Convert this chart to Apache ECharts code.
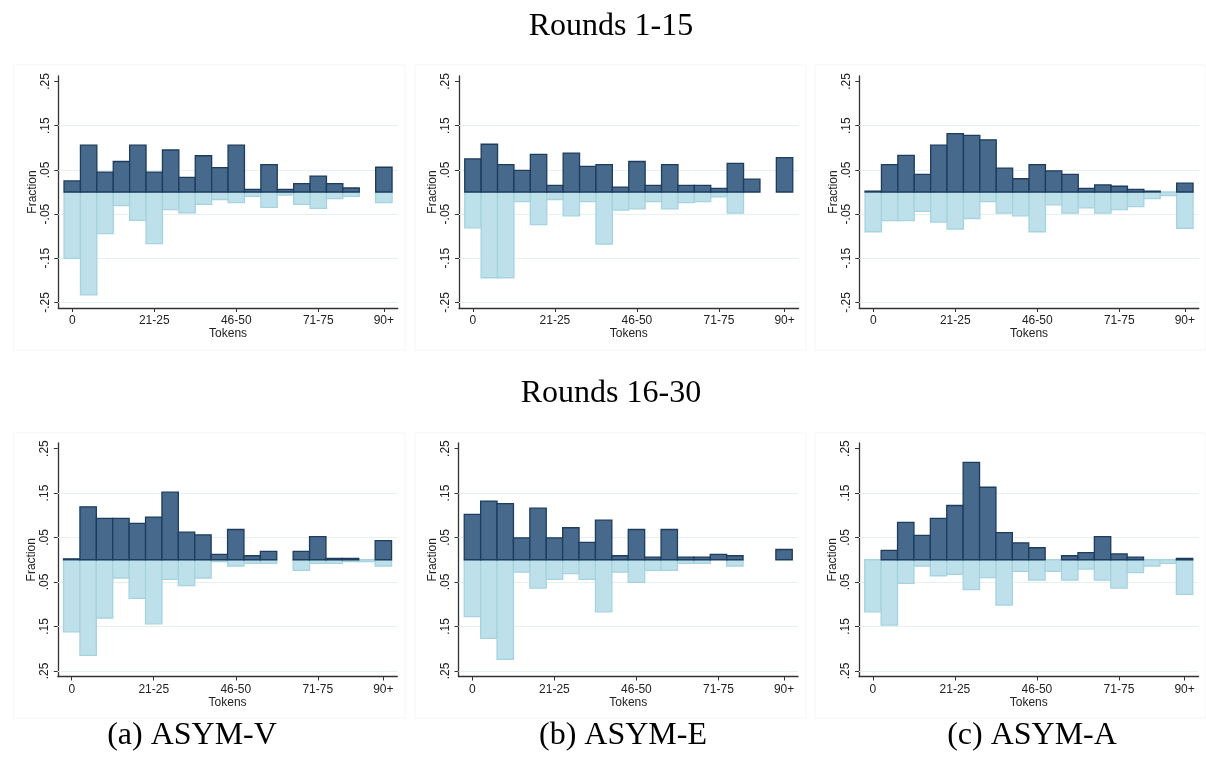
<!DOCTYPE html>
<html>
<head>
<meta charset="utf-8">
<title>Token distributions</title>
<script src="https://cdn.jsdelivr.net/npm/echarts@6/dist/echarts.min.js"></script>
<style>
  html, body { margin: 0; padding: 0; background: #fff; }
  #chart { width: 1206px; height: 774px; }
</style>
</head>
<body>
<div id="chart"></div>
<script>
// Token bins (one bar per bin); only some get a tick label
const bins = ['0', '1-5', '6-10', '11-15', '16-20', '21-25', '26-30', '31-35', '36-40', '41-45',
    '46-50', '51-55', '56-60', '61-65', '66-70', '71-75', '76-80', '81-85', '86-89', '90+'];
const labelledBins = [0, 5, 10, 15, 19];
const yTicks = [-0.25, -0.15, -0.05, 0.05, 0.15, 0.25];
const gridValues = [-0.25, -0.15, -0.05, 0.05, 0.15];

// Fractions per bin. "upper" = dark bars above zero, "lower" = light bars drawn below zero.
// Rounds 1-15
const asymV_r1_upper = [0.025, 0.106, 0.045, 0.069, 0.106, 0.045, 0.095, 0.033, 0.082, 0.055,
    0.106, 0.006, 0.062, 0.006, 0.019, 0.036, 0.019, 0.009, 0, 0.056];
const asymV_r1_lower = [0.150, 0.233, 0.094, 0.031, 0.064, 0.117, 0.040, 0.047, 0.028, 0.017,
    0.024, 0.010, 0.035, 0.007, 0.028, 0.037, 0.015, 0.010, 0, 0.024];
const asymE_r1_upper = [0.075, 0.108, 0.062, 0.049, 0.085, 0.015, 0.088, 0.058, 0.062, 0.011,
    0.069, 0.015, 0.062, 0.015, 0.015, 0.008, 0.065, 0.029, 0, 0.078];
const asymE_r1_lower = [0.081, 0.194, 0.194, 0.022, 0.074, 0.017, 0.054, 0.022, 0.118, 0.041,
    0.038, 0.022, 0.038, 0.024, 0.022, 0.011, 0.048, 0, 0, 0];
const asymA_r1_upper = [0.002, 0.062, 0.083, 0.040, 0.106, 0.132, 0.128, 0.118, 0.054, 0.030,
    0.062, 0.048, 0.040, 0.008, 0.016, 0.013, 0.006, 0.002, 0, 0.020];
const asymA_r1_lower = [0.090, 0.065, 0.065, 0.044, 0.068, 0.084, 0.060, 0.022, 0.048, 0.054,
    0.090, 0.029, 0.048, 0.036, 0.048, 0.040, 0.033, 0.015, 0.008, 0.082];
// Rounds 16-30
const asymV_r2_upper = [0.002, 0.119, 0.093, 0.093, 0.082, 0.096, 0.152, 0.062, 0.056, 0.012,
    0.068, 0.009, 0.019, 0, 0.019, 0.052, 0.003, 0.003, 0, 0.043];
const asymV_r2_lower = [0.162, 0.215, 0.131, 0.041, 0.087, 0.144, 0.044, 0.058, 0.041, 0.004,
    0.014, 0.008, 0.008, 0, 0.024, 0.008, 0.008, 0.004, 0.004, 0.014];
const asymE_r2_upper = [0.102, 0.132, 0.126, 0.049, 0.116, 0.049, 0.072, 0.039, 0.089, 0.009,
    0.068, 0.006, 0.068, 0.006, 0.006, 0.012, 0.009, 0, 0, 0.023];
const asymE_r2_lower = [0.128, 0.177, 0.224, 0.028, 0.064, 0.044, 0.031, 0.044, 0.117, 0.028,
    0.051, 0.024, 0.024, 0.008, 0.008, 0, 0.014, 0, 0, 0];
const asymA_r2_upper = [0, 0.021, 0.084, 0.055, 0.093, 0.122, 0.219, 0.163, 0.061, 0.038,
    0.027, 0, 0.009, 0.016, 0.052, 0.013, 0.006, 0, 0, 0.003];
const asymA_r2_lower = [0.117, 0.147, 0.053, 0.014, 0.036, 0.033, 0.067, 0.040, 0.102, 0.026,
    0.046, 0.026, 0.046, 0.021, 0.046, 0.064, 0.029, 0.014, 0.008, 0.078];

const panels = [
    { upper: asymV_r1_upper, lower: asymV_r1_lower, left: 58.3, top: 76, height: 232, signed: true },
    { upper: asymE_r1_upper, lower: asymE_r1_lower, left: 459, top: 76, height: 232, signed: true },
    { upper: asymA_r1_upper, lower: asymA_r1_lower, left: 859.3, top: 76, height: 232, signed: true },
    { upper: asymV_r2_upper, lower: asymV_r2_lower, left: 57.8, top: 443, height: 233.5, signed: false },
    { upper: asymE_r2_upper, lower: asymE_r2_lower, left: 458.5, top: 443, height: 233.5, signed: false },
    { upper: asymA_r2_upper, lower: asymA_r2_lower, left: 859, top: 443, height: 233.5, signed: false },
];

const DARK_FILL = '#47698c';
const DARK_EDGE = '#1d3c5e';
const LIGHT_FILL = '#bde0ea';
const LIGHT_EDGE = '#a6d3e0';
const SANS = 'Liberation Sans, Arial, sans-serif';
const SERIF = 'Liberation Serif, Times New Roman, serif';

function fmtTick(v, signed) {
    const s = '.' + String(Math.round(Math.abs(v) * 100)).padStart(2, '0');
    return signed && v < 0 ? '-' + s : s;
}

// draws one bin as a rectangle from zero to the value, through the grid's scales
function barRenderer(fill, edge) {
    return (params, api) => {
        const i = api.value(0);
        const v = api.value(1);
        if (!v) return null;
        const p0 = api.coord([i - 0.5, 0]);
        const p1 = api.coord([i + 0.5, v]);
        return {
            type: 'rect',
            shape: {
                x: p0[0], y: Math.min(p0[1], p1[1]),
                width: p1[0] - p0[0], height: Math.abs(p1[1] - p0[1]),
            },
            style: { fill: fill, stroke: edge, lineWidth: 1.3 },
        };
    };
}

const grids = [], xAxes = [], yAxes = [], series = [];
panels.forEach((p, k) => {
    grids.push({ left: p.left, top: p.top, width: 339.5, height: p.height });
    xAxes.push({
        type: 'value', gridIndex: k, min: -0.85, max: 19.85,
        name: 'Tokens', nameLocation: 'middle', nameGap: 18,
        nameTextStyle: { fontFamily: SANS, fontSize: 12, color: '#222' },
        axisLine: { show: true, onZero: false, lineStyle: { color: '#333', width: 1.3 } },
        axisTick: { show: true, customValues: labelledBins, length: 4, lineStyle: { color: '#333' } },
        axisLabel: {
            customValues: labelledBins, margin: 7,
            fontFamily: SANS, fontSize: 12, color: '#222',
            formatter: (v) => bins[v],
        },
        splitLine: { show: false },
    });
    yAxes.push({
        type: 'value', gridIndex: k, min: -0.2625, max: 0.2625,
        name: 'Fraction', nameLocation: 'middle', nameGap: 20,
        nameTextStyle: { fontFamily: SANS, fontSize: 12, color: '#222' },
        axisLine: { show: true, onZero: false, lineStyle: { color: '#333', width: 1.3 } },
        axisTick: { show: true, customValues: yTicks, length: 4, lineStyle: { color: '#333' } },
        axisLabel: {
            customValues: yTicks, rotate: 90, margin: 7,
            fontFamily: SANS, fontSize: 12, color: '#222',
            formatter: (v) => fmtTick(v, p.signed),
        },
        splitLine: { show: false },
    });
    series.push({
        type: 'custom', xAxisIndex: k, yAxisIndex: k, z: 2,
        renderItem: barRenderer(LIGHT_FILL, LIGHT_EDGE),
        data: p.lower.map((v, i) => [i, -v]),
        markLine: {
            silent: true, z: 1, symbol: 'none', animation: false,
            label: { show: false },
            lineStyle: { color: '#e6eff1', width: 1, type: 'solid' },
            data: gridValues.map((v) => ({ yAxis: v })),
        },
    });
    series.push({
        type: 'custom', xAxisIndex: k, yAxisIndex: k, z: 3,
        renderItem: barRenderer(DARK_FILL, DARK_EDGE),
        data: p.upper.map((v, i) => [i, v]),
    });
});

// faint panel frames, row titles and sub-captions
const frames = [
    [14, 65], [415, 65], [815, 65],
    [14, 433], [415, 433], [815, 433],
].map(([x, y]) => ({
    type: 'rect', silent: true, z: -1,
    shape: { x: x, y: y, width: 391, height: 285 },
    style: { fill: 'none', stroke: '#f5f5f5', lineWidth: 1 },
}));

function text(str, x, y) {
    return {
        type: 'text', x: x, y: y, silent: true,
        style: {
            text: str, fontFamily: SERIF, fontSize: 32, fill: '#000',
            textAlign: 'center', textVerticalAlign: 'middle',
        },
    };
}

const chart = echarts.init(document.getElementById('chart'), null, { renderer: 'canvas' });
chart.setOption({
    backgroundColor: '#fff',
    animation: false,
    grid: grids,
    xAxis: xAxes,
    yAxis: yAxes,
    series: series,
    graphic: frames.concat([
        text('Rounds 1-15', 611, 27),
        text('Rounds 16-30', 611, 394),
        text('(a) ASYM-V', 192, 736),
        text('(b) ASYM-E', 623, 736),
        text('(c) ASYM-A', 1032, 736),
    ]),
});
</script>
</body>
</html>
